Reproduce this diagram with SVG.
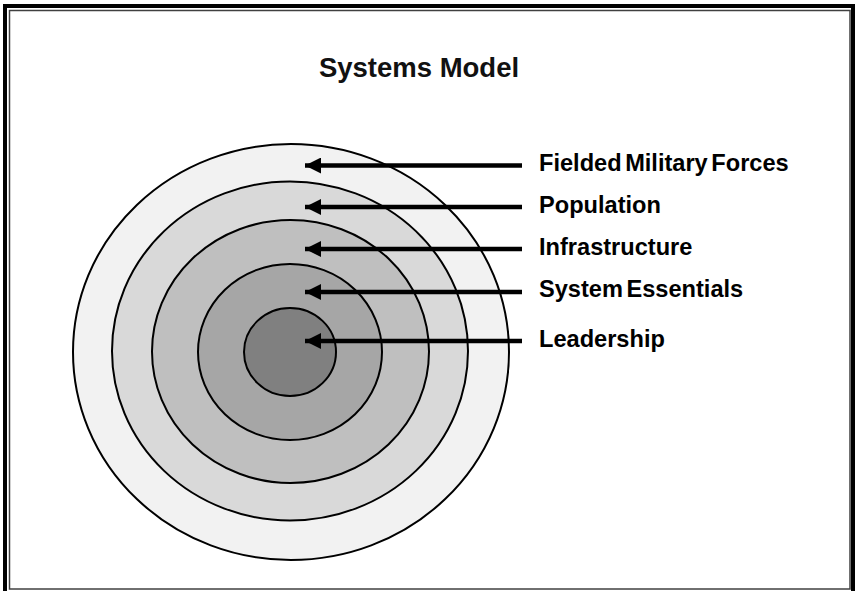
<svg xmlns="http://www.w3.org/2000/svg" width="855" height="591" viewBox="0 0 855 591">
<style>
.ring{stroke:#000;stroke-width:2}
.lbl{font-family:"Liberation Sans",Arial,sans-serif;font-weight:bold;font-size:23.6px;word-spacing:-3px;fill:#000}
.arr{stroke:#000;stroke-width:4.5;fill:none;marker-end:url(#ah)}
</style>
<defs>
<marker id="ah" markerUnits="userSpaceOnUse" markerWidth="16" markerHeight="16" refX="16" refY="8" orient="auto" viewBox="0 0 16 16">
<path d="M0,0 L16,8 L0,16 z" fill="#000"/>
</marker>
</defs>
<rect width="855" height="591" fill="#fff"/>
<g id="frame" fill="none">
<rect x="5" y="6" width="848" height="592" stroke="#000" stroke-width="4"/>
<rect x="9.5" y="10.5" width="840.5" height="578.5" stroke="#404040" stroke-width="1.5"/>
</g>
<text id="title" x="419" y="77" text-anchor="middle" style="font-family:'Liberation Sans',Arial,sans-serif;font-weight:bold;font-size:27.5px;fill:#111">Systems Model</text>
<g id="ring-fielded"><ellipse class="ring" cx="291" cy="352" rx="218" ry="208" fill="#f2f2f2"/></g>
<g id="ring-population"><ellipse class="ring" cx="290" cy="351" rx="178" ry="169.5" fill="#d9d9d9"/></g>
<g id="ring-infrastructure"><ellipse class="ring" cx="290.5" cy="351.5" rx="138.5" ry="131.5" fill="#bfbfbf"/></g>
<g id="ring-essentials"><ellipse class="ring" cx="290" cy="352" rx="92" ry="88" fill="#a6a6a6"/></g>
<g id="ring-leadership"><ellipse class="ring" cx="290" cy="352" rx="46" ry="44" fill="#808080"/></g>
<g id="connectors">
<line class="arr" x1="522" y1="165.5" x2="305" y2="165.5"/>
<line class="arr" x1="522" y1="207" x2="305" y2="207"/>
<line class="arr" x1="522" y1="249" x2="305" y2="249"/>
<line class="arr" x1="522" y1="292" x2="305" y2="292"/>
<line class="arr" x1="522" y1="341" x2="305" y2="341"/>
</g>
<g id="labels">
<text class="lbl" x="539" y="171">Fielded Military Forces</text>
<text class="lbl" x="539" y="213">Population</text>
<text class="lbl" x="539" y="255">Infrastructure</text>
<text class="lbl" x="539" y="297">System Essentials</text>
<text class="lbl" x="539" y="347">Leadership</text>
</g>
</svg>
